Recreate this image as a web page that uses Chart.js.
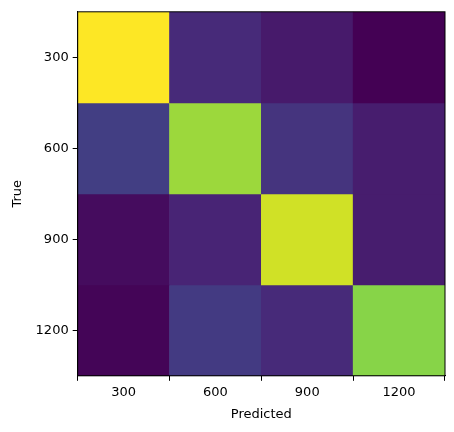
<!DOCTYPE html>
<html>
<head>
<meta charset="utf-8">
<script src="https://cdn.jsdelivr.net/npm/chart.js@4"></script>
<style>
body{margin:0;background:#fff;}
#wrap{width:454px;height:432px;}
</style>
</head>
<body>
<div id="wrap"><canvas id="chart"></canvas></div>
<script>
// confusion matrix, normalised values
var labels = ['300', '600', '900', '1200'];
var row300 = [1.00, 0.12, 0.07, 0.00];
var row600 = [0.18, 0.85, 0.15, 0.08];
var row900 = [0.03, 0.10, 0.93, 0.08];
var row1200 = [0.01, 0.17, 0.12, 0.82];
var rows = [row300, row600, row900, row1200];

// viridis colour map stops
var viridis = ['#440154', '#482475', '#414487', '#355f8d', '#2a788e', '#21918c',
	'#22a884', '#44bf70', '#7ad151', '#bddf26', '#fde725'];

function hexToRgb(h){
	return [parseInt(h.substr(1, 2), 16), parseInt(h.substr(3, 2), 16), parseInt(h.substr(5, 2), 16)];
}
function colorFor(v){
	var p = Math.max(0, Math.min(1, v)) * 10;
	var i = Math.min(9, Math.floor(p));
	var t = p - i;
	var a = hexToRgb(viridis[i]), b = hexToRgb(viridis[i + 1]);
	var c = a.map((x, k) => Math.round(x + (b[k] - x) * t));
	return 'rgb(' + c.join(',') + ')';
}

var datasets = rows.map((r, ri) => ({
	label: labels[ri],
	data: r.map(() => [ri - 0.5, ri + 0.5]),
	backgroundColor: r.map(colorFor),
	borderWidth: 0,
	barPercentage: 1,
	categoryPercentage: 1,
	grouped: false,
}));

var frame = {
	id: 'frame',
	afterDraw(c){
		var a = c.chartArea, ctx = c.ctx;
		ctx.save();
		ctx.strokeStyle = '#000';
		ctx.lineWidth = 1;
		ctx.strokeRect(a.left, a.top, a.right - a.left, a.bottom - a.top);
		ctx.restore();
	}
};

var font = {family: 'DejaVu Sans', size: 13};
new Chart(document.getElementById('chart'), {
	type: 'bar',
	data: {labels: labels, datasets: datasets},
	options: {
		responsive: true,
		maintainAspectRatio: false,
		animation: false,
		layout: {padding: {top: 8, right: 9, left: 6, bottom: 6}},
		plugins: {legend: {display: false}, tooltip: {enabled: false}},
		scales: {
			x: {
				offset: true,
				grid: {display: true, drawOnChartArea: false, tickLength: 5, color: '#000'},
				border: {color: '#000'},
				ticks: {color: '#000', font: font, padding: 4},
				title: {display: true, text: 'Predicted', color: '#000', font: font, padding: {top: 2}}
			},
			y: {
				type: 'linear',
				reverse: true,
				min: -0.5,
				max: 3.5,
				afterBuildTicks: s => { s.ticks = labels.map((l, i) => ({value: i})); },
				grid: {display: true, drawOnChartArea: false, tickLength: 5, color: '#000'},
				border: {color: '#000'},
				ticks: {color: '#000', font: font, padding: 4, callback: v => labels[v]},
				title: {display: true, text: 'True', color: '#000', font: font, padding: {bottom: 6}}
			}
		}
	},
	plugins: [frame]
});
</script>
</body>
</html>
